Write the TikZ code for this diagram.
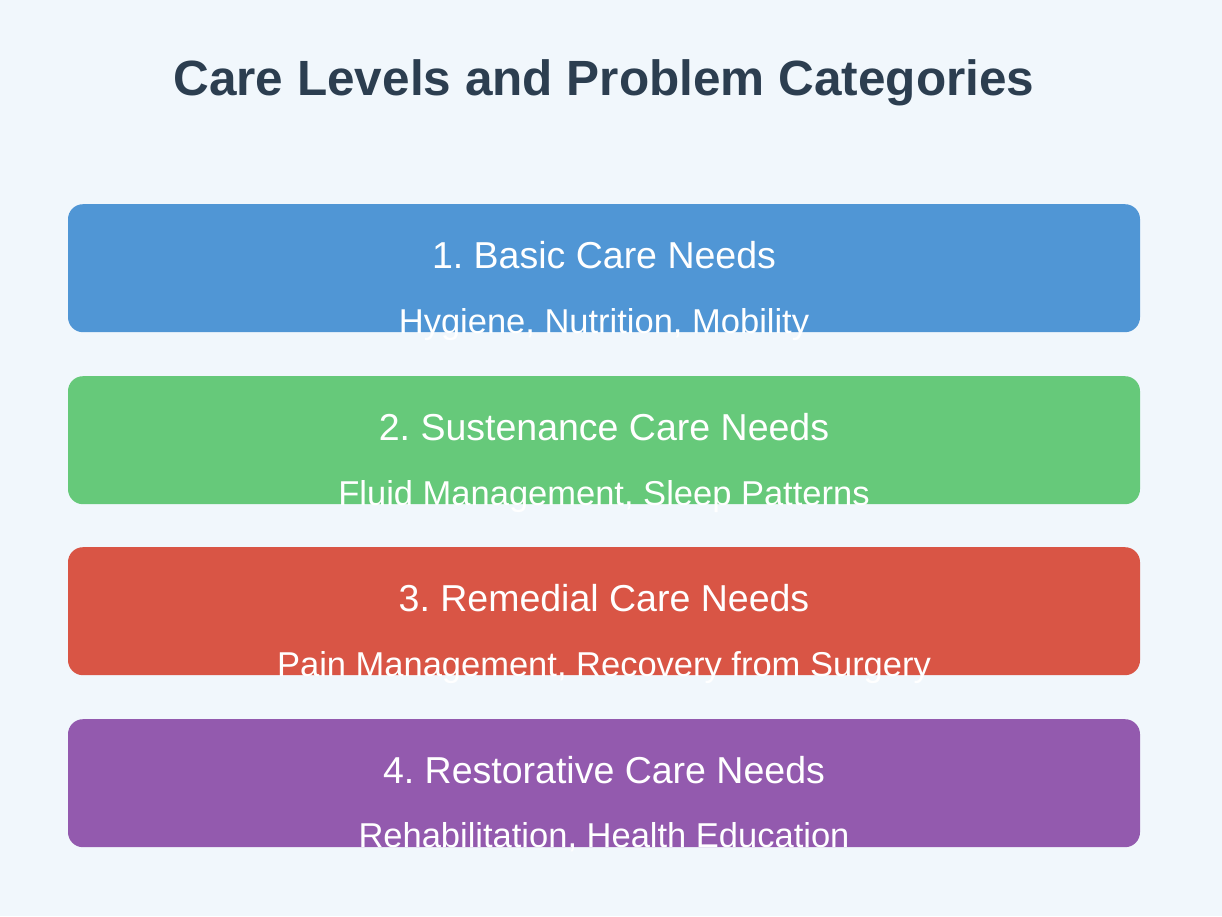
\documentclass[tikz,border=0pt]{standalone}
\usepackage{fontspec}
\setmainfont{Liberation Sans}
\usetikzlibrary{positioning}
\frenchspacing

\definecolor{pagebg}{HTML}{F1F7FC}
\definecolor{titleink}{HTML}{2C3E50}
\definecolor{basicblue}{HTML}{5096D5}
\definecolor{sustgreen}{HTML}{66C97A}
\definecolor{remedred}{HTML}{D95545}
\definecolor{restpurple}{HTML}{935AAE}

\begin{document}
\begin{tikzpicture}[x=1pt, y=-1pt,
  level box/.style={rectangle, rounded corners=15pt, minimum width=1072pt, minimum height=128pt, inner sep=0pt, anchor=north},
  level name/.style={anchor=base, text=white, inner sep=0pt, font=\fontsize{37.5}{44}\selectfont},
  level items/.style={anchor=base, text=white, inner sep=0pt, font=\fontsize{34.5}{40}\selectfont}]

\fill[pagebg] (0,0) rectangle (1222,916);
\useasboundingbox (0,0) rectangle (1222,916);

\node[anchor=base, text=titleink, font=\fontsize{49.5}{58}\selectfont\bfseries](title) at (604,95) {Care Levels and Problem Categories};

\node[level box, fill=basicblue](basic) at (604,204) {};
\node[level name](basicname) at (604,268) {1. Basic Care Needs};
\node[level items](basicitems) at (604,333) {Hygiene, Nutrition, Mobility};

\node[level box, fill=sustgreen](sust) at (604,376) {};
\node[level name](sustname) at (604,440) {2. Sustenance Care Needs};
\node[level items](sustitems) at (604,505) {Fluid Management, Sleep Patterns};

\node[level box, fill=remedred](remed) at (604,547) {};
\node[level name](remedname) at (604,611) {3. Remedial Care Needs};
\node[level items](remeditems) at (604,676) {Pain Management, Recovery from Surgery};

\node[level box, fill=restpurple](rest) at (604,719) {};
\node[level name](restname) at (604,783) {4. Restorative Care Needs};
\node[level items](restitems) at (604,847) {Rehabilitation, Health Education};

\end{tikzpicture}
\end{document}
